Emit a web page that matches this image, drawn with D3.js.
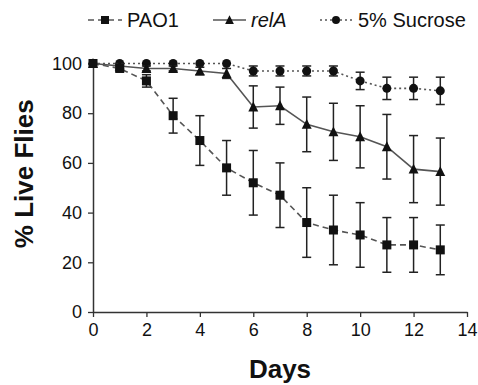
<!DOCTYPE html>
<html>
<head>
<meta charset="utf-8">
<script src="https://cdn.jsdelivr.net/npm/d3@7"></script>
<style>
  body { margin: 0; background: #fff; }
  svg text { font-family: "Liberation Sans", Arial, sans-serif; fill: #111; }
</style>
</head>
<body>
<div id="chart"></div>
<script>
const days = [0, 1, 2, 3, 4, 5, 6, 7, 8, 9, 10, 11, 12, 13];
const pao1 = [100, 98, 93, 79, 69, 58, 52, 47, 36, 33, 31, 27, 27, 25];
const pao1Err = [0, 1, 2.5, 7, 10, 11, 13, 13, 14, 14, 13, 11, 11, 10];
const relA = [100, 99, 98, 98, 97, 96, 82.5, 83, 75.5, 72.5, 70.5, 66.5, 57.5, 56.5];
const relAErr = [0, 1, 1, 1, 1.5, 2, 8.5, 7.5, 11, 11.5, 12.5, 13, 13.5, 13.5];
const sucrose = [100, 100, 100, 100, 100, 100, 97, 97, 97, 97, 93, 90, 90, 89];
const sucroseErr = [0, 0, 0, 0, 0, 0, 2, 2, 2, 2, 3.5, 4.5, 4.5, 5.5];
const xTicks = [0, 2, 4, 6, 8, 10, 12, 14];
const yTicks = [0, 20, 40, 60, 80, 100];

const series = [
    {name: 'PAO1', vals: pao1, errs: pao1Err, marker: 'square', dash: '6,4', italic: false},
    {name: 'relA', vals: relA, errs: relAErr, marker: 'triangle', dash: null, italic: true},
    {name: '5% Sucrose', vals: sucrose, errs: sucroseErr, marker: 'circle', dash: '2,3', italic: false}
];

const width = 478, height = 385;
const margin = {left: 93, top: 63.5, right: 11, bottom: 73};
const W = width - margin.left - margin.right;
const H = height - margin.top - margin.bottom;
const lineColor = '#555';
const markColor = '#111';

const svg = d3.select('#chart').append('svg')
    .attr('width', width)
    .attr('height', height);

const g = svg.append('g')
    .attr('transform', `translate(${margin.left},${margin.top})`);

const xScale = d3.scaleLinear().domain([0, 14]).range([0, W]);
const yScale = d3.scaleLinear().domain([0, 100]).range([H, 0]);

const xAxis = d3.axisBottom(xScale).tickValues(xTicks).tickSize(5).tickSizeOuter(0).tickPadding(6);
const yAxis = d3.axisLeft(yScale).tickValues(yTicks).tickSize(5).tickSizeOuter(0).tickPadding(6);

const gx = g.append('g').attr('transform', `translate(0,${H})`).call(xAxis);
const gy = g.append('g').call(yAxis);
[gx, gy].forEach(a => {
    a.select('.domain').attr('stroke', '#333').attr('stroke-width', 1.5);
    a.selectAll('.tick line').attr('stroke', '#333').attr('stroke-width', 1.3);
    a.selectAll('.tick text').style('font-size', '18px').attr('fill', '#111');
});

const line = d3.line()
    .x((d, i) => xScale(days[i]))
    .y(d => yScale(d));

function drawMarker(sel, type, size) {
    if (type === 'square') {
        sel.append('rect')
            .attr('x', -size / 2).attr('y', -size / 2)
            .attr('width', size).attr('height', size)
            .attr('fill', markColor);
    } else if (type === 'triangle') {
        const s = size * 1.1;
        sel.append('path')
            .attr('d', `M0,${-s * 0.55}L${s / 2},${s * 0.45}L${-s / 2},${s * 0.45}Z`)
            .attr('fill', markColor);
    } else {
        sel.append('circle').attr('r', size / 2).attr('fill', markColor);
    }
}

// draw sucrose first so others sit on top like the original
[series[2], series[1], series[0]].forEach(s => {
    const sg = g.append('g');
    sg.append('path')
        .datum(s.vals)
        .attr('d', line)
        .attr('fill', 'none')
        .attr('stroke', lineColor)
        .attr('stroke-width', 1.6)
        .attr('stroke-dasharray', s.dash);

    const bars = sg.selectAll('.err')
        .data(s.vals.map((v, i) => ({x: days[i], v: v, e: s.errs[i]})).filter(d => d.e > 0))
        .enter().append('g')
        .attr('transform', d => `translate(${xScale(d.x)},0)`);
    bars.append('line')
        .attr('y1', d => yScale(d.v + d.e)).attr('y2', d => yScale(d.v - d.e))
        .attr('stroke', '#222').attr('stroke-width', 1.5);
    bars.append('line')
        .attr('x1', -4.5).attr('x2', 4.5)
        .attr('y1', d => yScale(d.v + d.e)).attr('y2', d => yScale(d.v + d.e))
        .attr('stroke', '#222').attr('stroke-width', 1.5);
    bars.append('line')
        .attr('x1', -4.5).attr('x2', 4.5)
        .attr('y1', d => yScale(d.v - d.e)).attr('y2', d => yScale(d.v - d.e))
        .attr('stroke', '#222').attr('stroke-width', 1.5);

    sg.selectAll('.pt')
        .data(s.vals)
        .enter().append('g')
        .attr('transform', (d, i) => `translate(${xScale(days[i])},${yScale(d)})`)
        .each(function () { drawMarker(d3.select(this), s.marker, 9); });
});

// axis titles
svg.append('text')
    .attr('x', margin.left + W / 2)
    .attr('y', 378)
    .attr('text-anchor', 'middle')
    .style('font-size', '26px')
    .style('font-weight', 'bold')
    .text('Days');

svg.append('text')
    .attr('transform', `translate(33,${margin.top + H / 2 - 14}) rotate(-90)`)
    .attr('text-anchor', 'middle')
    .style('font-size', '26px')
    .style('font-weight', 'bold')
    .text('% Live Flies');

// legend
const legendItems = [
    {x0: 88, x1: 122, tx: 127},
    {x0: 213, x1: 246, tx: 251},
    {x0: 320, x1: 352, tx: 358}
];
const legend = svg.append('g');
series.forEach((s, i) => {
    const L = legendItems[i];
    const lg = legend.append('g');
    lg.append('line')
        .attr('x1', L.x0).attr('x2', L.x1)
        .attr('y1', 20).attr('y2', 20)
        .attr('stroke', lineColor).attr('stroke-width', 1.6)
        .attr('stroke-dasharray', s.dash);
    const m = lg.append('g').attr('transform', `translate(${(L.x0 + L.x1) / 2},20)`);
    drawMarker(m, s.marker, 8);
    lg.append('text')
        .attr('x', L.tx).attr('y', 27)
        .style('font-size', '20px')
        .style('font-style', s.italic ? 'italic' : 'normal')
        .text(s.name);
});
</script>
</body>
</html>
